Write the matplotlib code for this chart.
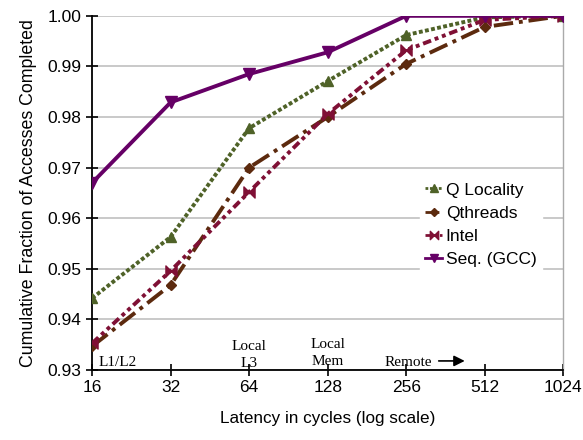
import matplotlib
matplotlib.use("Agg")
import matplotlib.pyplot as plt
from matplotlib.path import Path

latency = [16, 32, 64, 128, 256, 512, 1024]
q_locality = [0.9442, 0.9563, 0.9778, 0.9871, 0.9962, 0.9997, 1.0]
qthreads = [0.9347, 0.9468, 0.9700, 0.9800, 0.9905, 0.9978, 1.0]
intel = [0.9353, 0.9496, 0.9652, 0.9806, 0.9932, 0.9992, 1.0]
seq_gcc = [0.9670, 0.9829, 0.9885, 0.9928, 1.0, 1.0, 1.0]
series_names = ["Q Locality", "Qthreads", "Intel", "Seq. (GCC)"]
yticks = [0.93, 0.94, 0.95, 0.96, 0.97, 0.98, 0.99, 1.00]

bowtie = Path([(-1, 1), (0, 0), (-1, -1), (-1, 1), (1, 1), (0, 0), (1, -1), (1, 1)],
              [Path.MOVETO, Path.LINETO, Path.LINETO, Path.CLOSEPOLY,
               Path.MOVETO, Path.LINETO, Path.LINETO, Path.CLOSEPOLY])

plt.rcParams['font.family'] = ['Liberation Sans', 'DejaVu Sans']
fig = plt.figure(figsize=(5.83, 4.40), dpi=100)
ax = fig.add_axes([0.158, 0.159, 0.808, 0.805])
ax.set_xscale('log', base=2)

ax.plot(latency, q_locality, color='#4F6228', linestyle=(0, (1, 0.6)), lw=2.8,
        marker='^', ms=7, label=series_names[0], zorder=3)
ax.plot(latency, qthreads, color='#5C2A0E', linestyle=(0, (5, 1.5, 1, 1.5)), lw=2.8,
        marker='D', ms=5.5, label=series_names[1], zorder=3)
ax.plot(latency, intel, color='#7F1035', linestyle=(0, (2.2, 1, 1, 1, 1, 1)), lw=2.8,
        marker=bowtie, ms=8, label=series_names[2], zorder=3)
ax.plot(latency, seq_gcc, color='#660066', linestyle='-', lw=2.8,
        marker='v', ms=8, label=series_names[3], zorder=4)

ax.set_xlim(16, 1024)
ax.set_ylim(0.93, 1.00)
ax.set_xticks(latency)
ax.set_xticklabels([str(v) for v in latency])
ax.xaxis.set_minor_locator(matplotlib.ticker.NullLocator())
ax.set_yticks(yticks)
ax.set_yticklabels(["%.2f" % v for v in yticks])
ax.tick_params(axis='both', direction='inout', length=8, width=1.2, labelsize=12.5, color='black')
ax.tick_params(axis='x', pad=3)
ax.grid(axis='y', color='#C0C0C0', lw=1.2)
ax.set_axisbelow(True)
ax.spines['top'].set_visible(False)
ax.spines['right'].set_color('#AAAAAA')
ax.spines['right'].set_linewidth(1)
ax.spines['left'].set_linewidth(1.3)
ax.spines['bottom'].set_linewidth(1.3)

ax.set_xlabel("Latency in cycles (log scale)", fontsize=12.3, labelpad=12)
ax.set_ylabel("Cumulative Fraction of Accesses Completed", fontsize=12.8, labelpad=8)

leg = ax.legend(loc='upper left', bbox_to_anchor=(0.677, 0.569), frameon=True,
                fontsize=12.5, handlelength=1.0, handletextpad=0.2, labelspacing=0.47,
                borderpad=0.3, fancybox=False, markerscale=0.75)
leg.get_frame().set_edgecolor('white')
leg.get_frame().set_facecolor('white')
leg.get_frame().set_alpha(1)
for h in leg.get_lines():
    h.set_linewidth(2.0)

serif = dict(family=['Liberation Serif', 'DejaVu Serif'], fontsize=11)
ax.text(16.9, 0.9302, "L1/L2", ha='left', va='bottom', **serif)
ax.text(64, 0.9301, "Local\nL3", ha='center', va='bottom', linespacing=1.35, **serif)
ax.text(128, 0.9305, "Local\nMem", ha='center', va='bottom', linespacing=1.35, **serif)
ax.text(212, 0.9302, "Remote", ha='left', va='bottom', **serif)
ax.annotate("", xy=(440, 0.9318), xytext=(333, 0.9318),
            arrowprops=dict(arrowstyle='-|>', color='black', lw=1.2, mutation_scale=16))

fig.savefig("out.png", dpi=100)
